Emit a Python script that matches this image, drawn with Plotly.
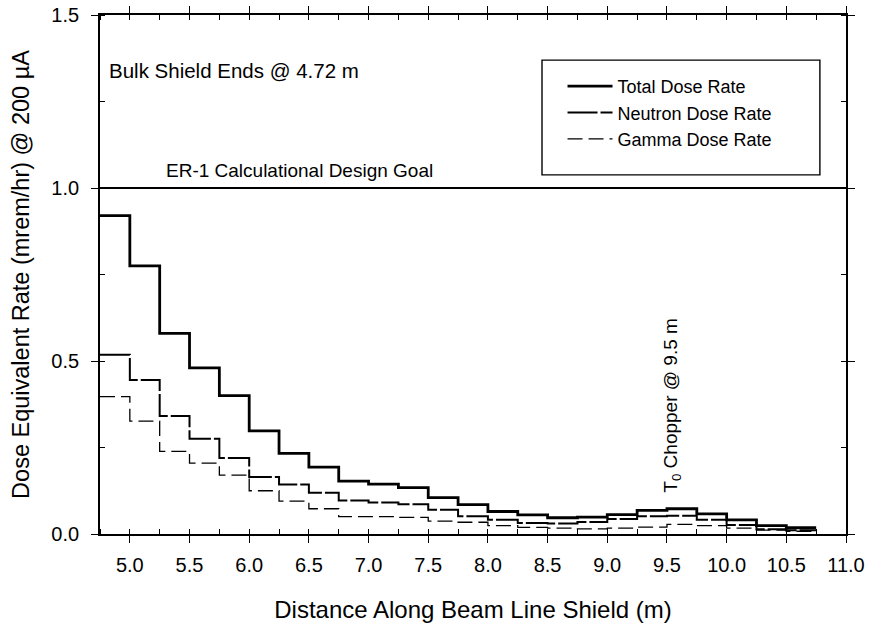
import plotly.graph_objects as go

# bin left edges (m), last value repeated at the final edge 10.75
bin_edges = [4.75, 5.0, 5.25, 5.5, 5.75, 6.0, 6.25, 6.5, 6.75, 7.0, 7.25, 7.5,
             7.75, 8.0, 8.25, 8.5, 8.75, 9.0, 9.25, 9.5, 9.75, 10.0, 10.25, 10.5, 10.75]

total_dose = [0.92, 0.775, 0.58, 0.48, 0.40, 0.298, 0.233, 0.193, 0.153, 0.144, 0.134, 0.105,
              0.085, 0.065, 0.055, 0.047, 0.049, 0.056, 0.068, 0.073, 0.058, 0.041, 0.024, 0.018]
neutron_dose = [0.518, 0.445, 0.341, 0.275, 0.22, 0.165, 0.143, 0.119, 0.097, 0.091, 0.086, 0.070,
                0.051, 0.041, 0.032, 0.030, 0.035, 0.043, 0.051, 0.053, 0.041, 0.026, 0.014, 0.011]
gamma_dose = [0.397, 0.326, 0.239, 0.205, 0.17, 0.125, 0.095, 0.073, 0.05, 0.05, 0.048, 0.037,
              0.034, 0.024, 0.019, 0.017, 0.015, 0.017, 0.02, 0.028, 0.024, 0.017, 0.011, 0.008]

design_goal = 1.0

x_ticks = [5.0, 5.5, 6.0, 6.5, 7.0, 7.5, 8.0, 8.5, 9.0, 9.5, 10.0, 10.5, 11.0]
y_ticks = [0.0, 0.5, 1.0, 1.5]

FONT = "Liberation Sans, Arial, sans-serif"

def ext(v):
    return v + [v[-1]]

fig = go.Figure()
fig.add_trace(go.Scatter(x=bin_edges, y=ext(total_dose), mode="lines", line_shape="hv",
                         name="Total Dose Rate", line=dict(color="black", width=2.8)))
fig.add_trace(go.Scatter(x=bin_edges, y=ext(neutron_dose), mode="lines", line_shape="hv",
                         name="Neutron Dose Rate", line=dict(color="black", width=2.0, dash="30px,3px")))
fig.add_trace(go.Scatter(x=bin_edges, y=ext(gamma_dose), mode="lines", line_shape="hv",
                         name="Gamma Dose Rate", line=dict(color="black", width=1.3, dash="15px,6px")))

fig.add_trace(go.Scatter(x=[4.75, 11.0], y=[design_goal, design_goal], mode="lines",
                         showlegend=False, line=dict(color="black", width=1.8), hoverinfo="skip"))

fig.add_annotation(x=4.81, y=1.341, xref="x", yref="y", text="Bulk Shield Ends @ 4.72 m",
                   showarrow=False, xanchor="left", yanchor="middle",
                   font=dict(family=FONT, size=20.5, color="black"))
fig.add_annotation(x=5.286, y=1.052, xref="x", yref="y", text="ER-1 Calculational Design Goal",
                   showarrow=False, xanchor="left", yanchor="middle",
                   font=dict(family=FONT, size=19, color="black"))
fig.add_annotation(x=9.54, y=0.373, xref="x", yref="y", text="T<sub>0</sub> Chopper @ 9.5 m",
                   showarrow=False, textangle=-90, xanchor="center", yanchor="middle",
                   font=dict(family=FONT, size=19, color="black"))

# legend frame
fig.add_shape(type="rect", xref="paper", yref="paper", x0=0.5925, x1=0.965, y0=0.692, y1=0.913,
              line=dict(color="black", width=1.4), fillcolor="white", layer="below")

fig.update_layout(
    width=873, height=624,
    margin=dict(l=100, r=27, t=15, b=90, autoexpand=False),
    paper_bgcolor="white", plot_bgcolor="rgba(0,0,0,0)",
    font=dict(family=FONT, size=19, color="black"),
    showlegend=True,
    legend=dict(x=0.62, y=0.898, xanchor="left", yanchor="top",
                borderwidth=0, bgcolor="rgba(0,0,0,0)",
                font=dict(family=FONT, size=18, color="black"),
                tracegroupgap=0, itemwidth=45),
)
fig.update_xaxes(range=[4.75, 11.0], tickvals=x_ticks, ticktext=[f"{v:.1f}" for v in x_ticks],
                 automargin=False,
                 showgrid=False, zeroline=False, showline=True, linecolor="black", linewidth=1.8,
                 mirror="allticks", ticks="outside", ticklen=7, tickwidth=1.4, tickcolor="black",
                 ticklabelstandoff=5,
                 minor=dict(dtick=0.25, tick0=5.0, ticks="inside", ticklen=5, tickcolor="black", showgrid=False),
                 tickfont=dict(family=FONT, size=20),
                 title=dict(text="Distance Along Beam Line Shield (m)", standoff=26,
                            font=dict(family=FONT, size=24)))
fig.update_yaxes(range=[0, 1.5], tickvals=y_ticks, ticktext=[f"{v:.1f}" for v in y_ticks],
                 automargin=False,
                 showgrid=False, zeroline=False, showline=True, linecolor="black", linewidth=1.8,
                 mirror="allticks", ticks="outside", ticklen=7, tickwidth=1.4, tickcolor="black",
                 ticklabelstandoff=8,
                 minor=dict(dtick=0.25, tick0=0, ticks="inside", ticklen=5, tickcolor="black", showgrid=False),
                 tickfont=dict(family=FONT, size=20),
                 title=dict(text="Dose Equivalent Rate (mrem/hr) @ 200 \u00b5A", standoff=15,
                            font=dict(family=FONT, size=23.5)))

fig.write_html("out.html", config={"displayModeBar": False},
               post_script="document.body.style.margin='0';")
